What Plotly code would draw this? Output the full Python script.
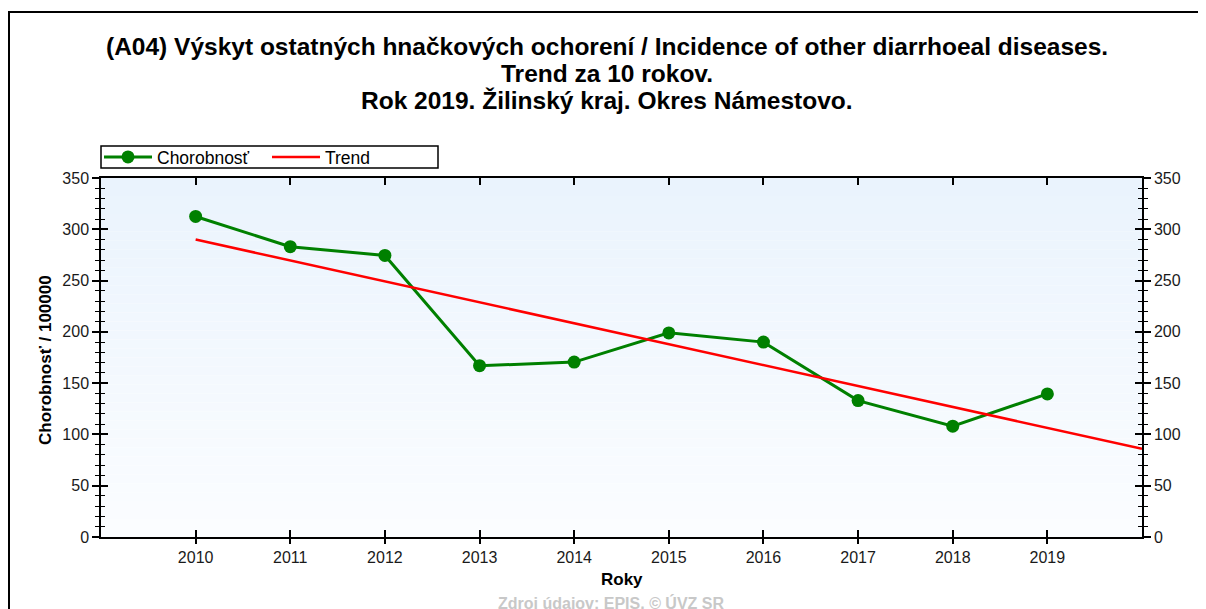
import plotly.graph_objects as go

# ---- data ----
years = [2010, 2011, 2012, 2013, 2014, 2015, 2016, 2017, 2018, 2019]
chorobnost = [312.5, 283, 274.5, 167, 170.5, 199, 190, 133, 108, 139.5]
trend_years = [2010, 2020]
trend_values = [290, 86]
y_ticks = [0, 50, 100, 150, 200, 250, 300, 350]

title_lines = [
    "(A04) Výskyt ostatných hnačkových ochorení / Incidence of other diarrhoeal diseases.",
    "Trend za 10 rokov.",
    "Rok 2019. Žilinský kraj. Okres Námestovo.",
]

# page body has an 8px margin; all positions below are in screen pixels
OFF = 8
SW, SH = 1206, 609
W, H = SW - OFF, SH - OFF
L, R, T, B = 101, 1142, 178, 537
pw, ph = R - L, B - T

def px(x):
    return (x - L) / pw

def py(y):
    return (B - y) / ph

FONT = "Liberation Sans, Arial, sans-serif"
GREEN = "#008000"
RED = "#ff0000"

fig = go.Figure()

fig.add_trace(go.Scatter(
    x=years, y=chorobnost, name="Chorobnosť", mode="lines+markers",
    line=dict(color=GREEN, width=3), marker=dict(color=GREEN, size=13),
    xaxis="x", yaxis="y"))
fig.add_trace(go.Scatter(
    x=trend_years, y=trend_values, name="Trend", mode="lines",
    line=dict(color=RED, width=2.5), xaxis="x", yaxis="y"))
# invisible carriers for the overlay axes (inside/right ticks)
fig.add_trace(go.Scatter(x=years, y=chorobnost, mode="markers", marker=dict(opacity=0),
                         showlegend=False, hoverinfo="skip", xaxis="x2", yaxis="y2"))
fig.add_trace(go.Scatter(x=years, y=chorobnost, mode="markers", marker=dict(opacity=0),
                         showlegend=False, hoverinfo="skip", xaxis="x2", yaxis="y3"))

# gradient background bands
n = 40
top = (234, 243, 253)
bot = (251, 253, 255)
shapes = []
for i in range(n):
    f = i / (n - 1)
    c = tuple(round(top[k] + (bot[k] - top[k]) * f) for k in range(3))
    shapes.append(dict(type="rect", xref="paper", yref="paper", layer="below",
                       x0=0, x1=1, y0=1 - (i + 1) / n, y1=1 - i / n,
                       line=dict(width=0), fillcolor="rgb(%d,%d,%d)" % c))
# outer frame: only top and left edges are inside the picture
shapes.append(dict(type="line", xref="paper", yref="paper", layer="above",
                   x0=px(8), x1=px(1230), y0=py(12), y1=py(12),
                   line=dict(color="black", width=2)))
shapes.append(dict(type="line", xref="paper", yref="paper", layer="above",
                   x0=px(9), x1=px(9), y0=py(11), y1=py(640),
                   line=dict(color="black", width=2)))
# legend box
shapes.append(dict(type="rect", xref="paper", yref="paper", layer="above",
                   x0=px(101), x1=px(438), y0=py(168), y1=py(146),
                   line=dict(color="black", width=1.5), fillcolor="rgba(0,0,0,0)"))

tickfont = dict(family=FONT, size=16, color="#1a1a1a")
ax_common = dict(range=[2009, 2020], showgrid=False, zeroline=False, automargin=False,
                 showline=True, linecolor="black", linewidth=1.5)
ay_common = dict(range=[0, 350], showgrid=False, zeroline=False, automargin=False,
                 showline=True, linecolor="black", linewidth=1.5)

annotations = []
for i, t in enumerate(title_lines):
    annotations.append(dict(text="<b>%s</b>" % t, xref="paper", yref="paper",
                            x=px(607), y=py(46 + i * 27.5), xanchor="center", yanchor="middle",
                            showarrow=False, font=dict(family=FONT, size=24.5, color="black")))
annotations.append(dict(text="<b>Chorobnosť / 100000</b>", xref="paper", yref="paper",
                        x=px(45), y=py(360), textangle=-90, showarrow=False,
                        xanchor="center", yanchor="middle",
                        font=dict(family=FONT, size=17, color="black")))
annotations.append(dict(text="<b>Roky</b>", xref="paper", yref="paper",
                        x=0.5, y=py(579), showarrow=False, xanchor="center", yanchor="middle",
                        font=dict(family=FONT, size=17, color="black")))
annotations.append(dict(text="<b>Zdroj údajov: EPIS, © ÚVZ SR</b>", xref="paper", yref="paper",
                        x=px(611), y=py(603), showarrow=False, xanchor="center", yanchor="middle",
                        font=dict(family=FONT, size=16, color="#c8c8c8")))

fig.update_layout(
    width=W, height=H,
    margin=dict(l=L - OFF, r=W - (R - OFF), t=T - OFF, b=H - (B - OFF), pad=0, autoexpand=False),
    paper_bgcolor="white", plot_bgcolor="rgba(0,0,0,0)",
    showlegend=True,
    legend=dict(orientation="h", x=px(99), y=py(157), xanchor="left", yanchor="middle",
                borderwidth=0, bgcolor="rgba(0,0,0,0)",
                font=dict(family=FONT, size=17.5, color="black"),
                entrywidth=105, entrywidthmode="pixels", itemwidth=48,
                tracegroupgap=0),
    xaxis=dict(**ax_common, tickvals=years, ticks="outside", ticklen=5, tickwidth=1.5,
               tickcolor="black", tickfont=tickfont, mirror=True),
    xaxis2=dict(**ax_common, overlaying="x", tickvals=years, ticks="inside", ticklen=7,
                tickwidth=1.5, tickcolor="black", showticklabels=False, mirror="ticks"),
    yaxis=dict(**ay_common, tickvals=y_ticks, ticks="outside", ticklen=7, tickwidth=1.5,
               tickcolor="black", tickfont=tickfont, mirror=False,
               minor=dict(dtick=10, ticks="outside", ticklen=4, tickwidth=1.2, tickcolor="black", showgrid=False)),
    yaxis2=dict(**ay_common, overlaying="y", side="right", anchor="x2", tickvals=y_ticks,
                ticks="outside", ticklen=7, tickwidth=1.5, tickcolor="black", tickfont=tickfont,
                minor=dict(dtick=10, ticks="outside", ticklen=4, tickwidth=1.2, tickcolor="black", showgrid=False)),
    yaxis3=dict(**ay_common, overlaying="y", anchor="x2", tickvals=y_ticks, ticks="inside",
                ticklen=7, tickwidth=1.5, tickcolor="black", showticklabels=False, mirror="ticks",
                minor=dict(dtick=10, ticks="inside", ticklen=4, tickwidth=1.2, tickcolor="black", showgrid=False)),
    shapes=shapes,
    annotations=annotations,
)

fig.write_html("out.html")
